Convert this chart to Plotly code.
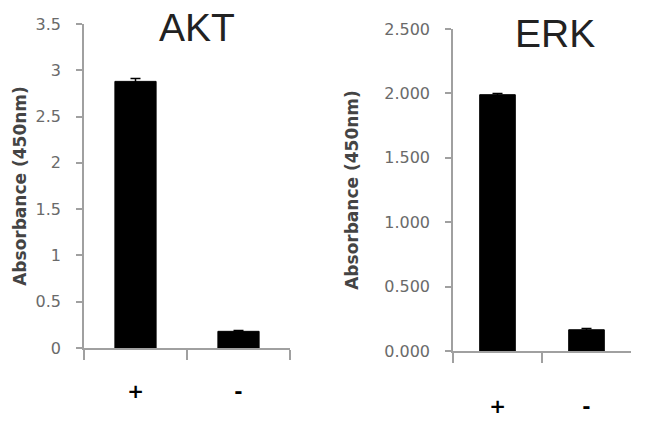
import plotly.graph_objects as go

# Data
categories = ["+", "-"]
akt_values = [2.88, 0.18]
akt_errors = [0.03, 0.01]
erk_values = [1.99, 0.165]
erk_errors = [0.01, 0.01]
akt_ticks = [0, 0.5, 1, 1.5, 2, 2.5, 3, 3.5]
erk_ticks = [0, 0.5, 1.0, 1.5, 2.0, 2.5]

W, H = 650, 426
def px_x(a, b):
    return [a / W, b / W]
def px_y(top, bottom):
    return [(H - bottom) / H, (H - top) / H]

fig = go.Figure()
fig.add_trace(go.Bar(
    x=categories, y=akt_values, xaxis="x", yaxis="y",
    marker=dict(color="black", line=dict(color="black", width=1)),
    width=0.4,
    error_y=dict(type="data", array=akt_errors, color="black", thickness=1.5, width=5),
    showlegend=False,
))
fig.add_trace(go.Bar(
    x=categories, y=erk_values, xaxis="x2", yaxis="y2",
    marker=dict(color="black", line=dict(color="black", width=1)),
    width=0.4,
    error_y=dict(type="data", array=erk_errors, color="black", thickness=1.5, width=5),
    showlegend=False,
))

axis_color = "#a0a0a0"
tick_font = dict(family="DejaVu Sans", size=16, color="#6a6a6a")
title_font = dict(family="DejaVu Sans", size=17, color="#444444")
xlab_font = dict(family="DejaVu Sans", size=20, color="black")

common_x = dict(
    type="category", range=[-0.5, 1.5], showline=True, linecolor=axis_color, linewidth=1.5,
    ticks="outside", tickson="boundaries", ticklen=10, tickcolor=axis_color, tickwidth=1.5,
    showgrid=False, zeroline=False, tickfont=xlab_font, fixedrange=True, automargin=False,
    tickvals=categories, ticktext=["<b>%s</b>" % c for c in categories],
)
common_y = dict(
    showline=True, linecolor=axis_color, linewidth=1.5, ticks="outside", ticklen=6,
    tickcolor=axis_color, tickwidth=1.5, showgrid=False, zeroline=False,
    tickfont=tick_font, ticklabelstandoff=12, automargin=False,
)

fig.update_layout(
    width=W, height=H, margin=dict(l=0, r=0, t=0, b=0),
    paper_bgcolor="white", plot_bgcolor="white",
    bargap=0.6,
    xaxis=dict(common_x, domain=px_x(84, 290), anchor="y", ticklabelstandoff=24),
    yaxis=dict(common_y, domain=px_y(24, 348), anchor="x", range=[0, 3.5],
               tickvals=akt_ticks, ticktext=[("%g" % v) for v in akt_ticks],
               title=dict(text="<b>Absorbance (450nm)</b>", font=title_font, standoff=5)),
    xaxis2=dict(common_x, domain=px_x(453, 631), anchor="y2", ticklabelstandoff=36),
    yaxis2=dict(common_y, domain=px_y(29, 351), anchor="x2", range=[0, 2.5],
                tickvals=erk_ticks, tickformat=".3f",
                title=dict(text="<b>Absorbance (450nm)</b>", font=title_font, standoff=21)),
    annotations=[
        dict(text="AKT", x=197 / W, y=(H - 27) / H, xref="paper", yref="paper",
             showarrow=False, xanchor="center", yanchor="middle",
             font=dict(family="Liberation Sans", size=39, color="#222222")),
        dict(text="ERK", x=555 / W, y=(H - 33) / H, xref="paper", yref="paper",
             showarrow=False, xanchor="center", yanchor="middle",
             font=dict(family="Liberation Sans", size=39, color="#222222")),
    ],
)

fig.write_html("out.html", config={"displayModeBar": False},
               post_script="document.body.style.margin='0';")
